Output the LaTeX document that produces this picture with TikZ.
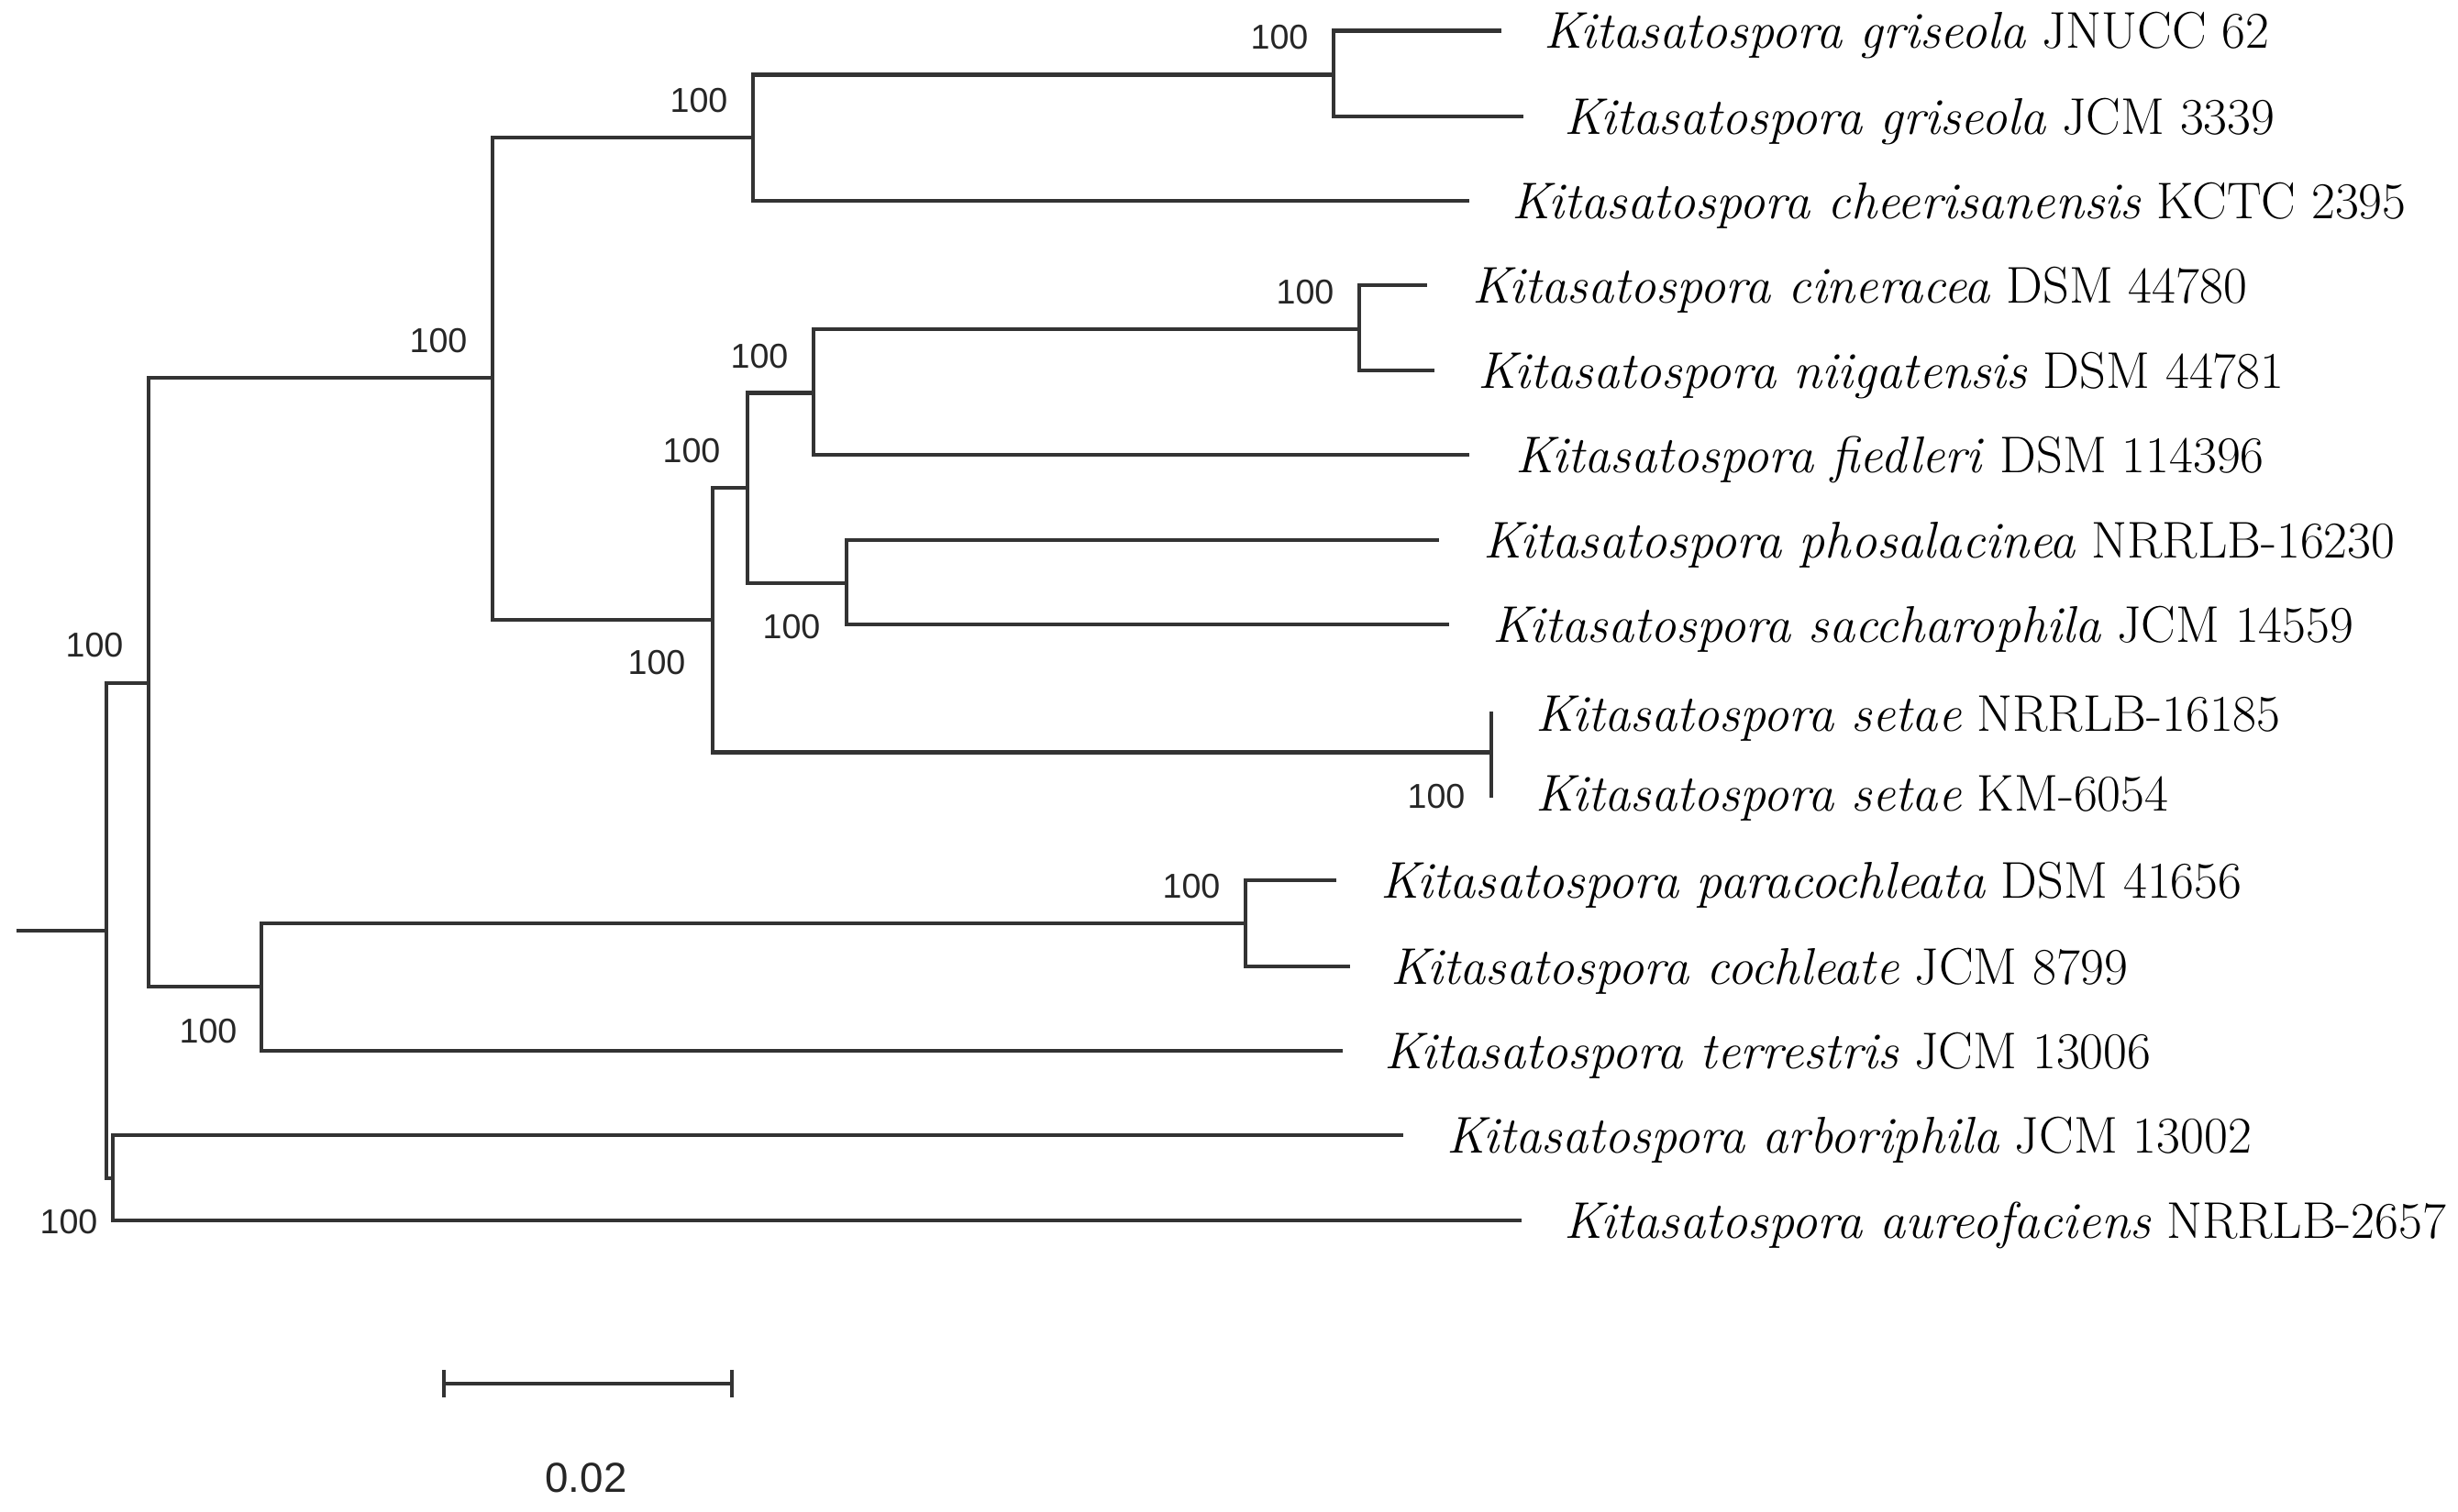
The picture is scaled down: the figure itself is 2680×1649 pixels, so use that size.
\documentclass[tikz,border=0pt]{standalone}
\usepackage{fontspec}
\newfontfamily\bsfont{Liberation Sans}
\usetikzlibrary{arrows.meta}

\begin{document}
\begin{tikzpicture}[x=0.01cm, y=-0.01cm,
  br/.style={line width=1.2pt, draw=black!80},
  taxon/.style={anchor=west, inner sep=0pt, yshift=-0.055cm, font=\fontsize{16}{18}\selectfont},
  bs/.style={inner sep=0pt, text=black!85, font=\bsfont\fontsize{10.7}{12}\selectfont}]
  \useasboundingbox (0,0) rectangle (2680,1649);

  % inner nodes (x = node, y = incoming branch)
  \coordinate (root) at (18,1015);
  \coordinate (n0) at (116,1015);
  \coordinate (n1) at (162,745);
  \coordinate (n2) at (537,412);
  \coordinate (n3) at (821,150);
  \coordinate (ngri) at (1454,81.5);
  \coordinate (nabc) at (777,676);
  \coordinate (nab) at (815,532);
  \coordinate (nfie) at (887,428.5);
  \coordinate (ncin) at (1482,359);
  \coordinate (npho) at (923,636);
  \coordinate (nset) at (1626,820.5);
  \coordinate (nct) at (285,1076);
  \coordinate (ncoc) at (1358,1007);
  \coordinate (narb) at (123,1285);

  % tips
  \coordinate (t1) at (1637,33.5);
  \coordinate (t2) at (1661,127);
  \coordinate (t3) at (1602,219);
  \coordinate (t4) at (1556,311);
  \coordinate (t5) at (1564,404);
  \coordinate (t6) at (1602,496);
  \coordinate (t7) at (1569,589);
  \coordinate (t8) at (1580,681);
  \coordinate (t9) at (1626,776);
  \coordinate (t10) at (1626,870);
  \coordinate (t11) at (1457,960);
  \coordinate (t12) at (1472,1054);
  \coordinate (t13) at (1464,1146);
  \coordinate (t14) at (1530,1238);
  \coordinate (t15) at (1659,1331);

  \node[taxon] (gri1) at (1683,33.5) {\textit{Kitasatospora griseola} JNUCC 62};
  \node[taxon] (gri2) at (1705,127) {\textit{Kitasatospora griseola} JCM 3339};
  \node[taxon] (che) at (1648,219) {\textit{Kitasatospora cheerisanensis} KCTC 2395};
  \node[taxon] (cin) at (1605,311) {\textit{Kitasatospora cineracea} DSM 44780};
  \node[taxon] (nii) at (1611,404) {\textit{Kitasatospora niigatensis} DSM 44781};
  \node[taxon] (fie) at (1652,496) {\textit{Kitasatospora fiedleri} DSM 114396};
  \node[taxon] (pho) at (1617,589) {\textit{Kitasatospora phosalacinea} NRRLB-16230};
  \node[taxon] (sac) at (1627,681) {\textit{Kitasatospora saccharophila} JCM 14559};
  \node[taxon] (set1) at (1674,778) {\textit{Kitasatospora setae} NRRLB-16185};
  \node[taxon] (set2) at (1674,865) {\textit{Kitasatospora setae} KM-6054};
  \node[taxon] (par) at (1505,960) {\textit{Kitasatospora paracochleata} DSM 41656};
  \node[taxon] (coc) at (1516,1054) {\textit{Kitasatospora cochleate} JCM 8799};
  \node[taxon] (ter) at (1509,1146) {\textit{Kitasatospora terrestris} JCM 13006};
  \node[taxon] (arb) at (1577,1238) {\textit{Kitasatospora arboriphila} JCM 13002};
  \node[taxon] (aur) at (1705,1331) {\textit{Kitasatospora aureofaciens} NRRLB-2657};

  % branches
  \draw[br] (root) -- (n0);
  \draw[br] (n0) |- (n1);
  \draw[br] (n0) |- (narb);
  \draw[br] (n1) |- (n2);
  \draw[br] (n1) |- (nct);
  \draw[br] (n2) |- (n3);
  \draw[br] (n2) |- (nabc);
  \draw[br] (n3) |- (ngri);
  \draw[br] (n3) |- (t3);
  \draw[br] (ngri) |- (t1);
  \draw[br] (ngri) |- (t2);
  \draw[br] (nabc) |- (nab);
  \draw[br] (nabc) |- (nset);
  \draw[br] (nab) |- (nfie);
  \draw[br] (nab) |- (npho);
  \draw[br] (nfie) |- (ncin);
  \draw[br] (nfie) |- (t6);
  \draw[br] (ncin) |- (t4);
  \draw[br] (ncin) |- (t5);
  \draw[br] (npho) |- (t7);
  \draw[br] (npho) |- (t8);
  \draw[br] (nset) -- (t9);
  \draw[br] (nset) -- (t10);
  \draw[br] (nct) |- (ncoc);
  \draw[br] (nct) |- (t13);
  \draw[br] (ncoc) |- (t11);
  \draw[br] (ncoc) |- (t12);
  \draw[br] (narb) |- (t14);
  \draw[br] (narb) |- (t15);

  % bootstrap values
  \node[bs] (b1) at (103,704) {100};
  \node[bs] (b2) at (478,372) {100};
  \node[bs] (b3) at (762,110) {100};
  \node[bs] (b4) at (1395,41) {100};
  \node[bs] (b5) at (1423,319) {100};
  \node[bs] (b6) at (828,389) {100};
  \node[bs] (b7) at (754,492) {100};
  \node[bs] (b8) at (863,684) {100};
  \node[bs] (b9) at (716,723) {100};
  \node[bs] (b10) at (1566,869) {100};
  \node[bs] (b11) at (1299,967) {100};
  \node[bs] (b12) at (227,1125) {100};
  \node[bs] (b13) at (75,1333) {100};

  % scale bar
  \coordinate (sb1) at (482,1509);
  \coordinate (sb2) at (800,1509);
  \draw[br, {Bar[width=0.3cm]}-{Bar[width=0.3cm]}] (sb1) -- (sb2);
  \node[bs, font=\bsfont\fontsize{13}{15}\selectfont] (scl) at (639,1612) {0.02};
\end{tikzpicture}
\end{document}
